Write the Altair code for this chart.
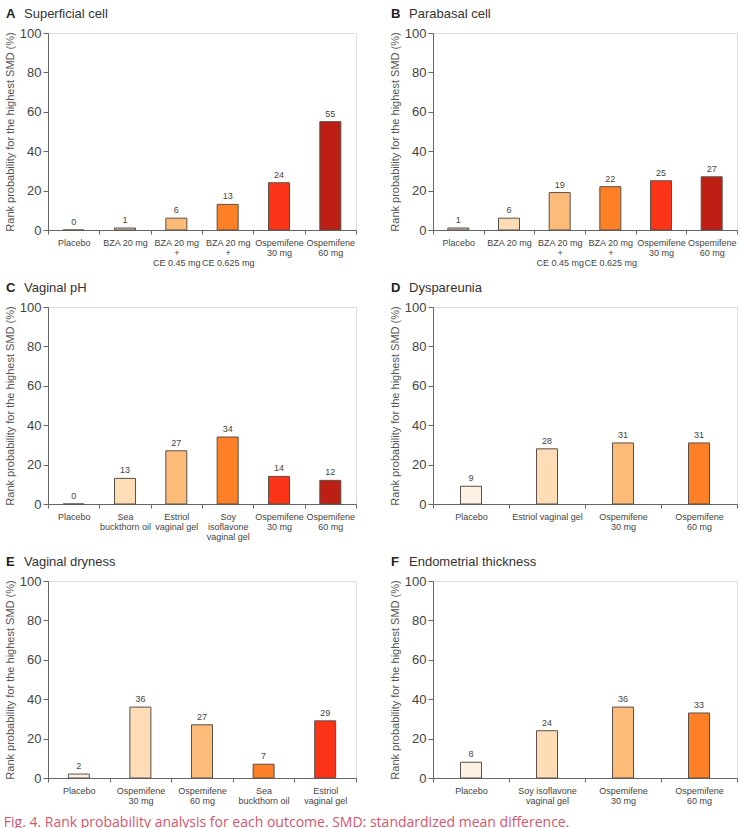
import altair as alt
import pandas as pd

# Rank probabilities (%) for the highest SMD, one list per outcome
a_cats = ["Placebo", "BZA 20 mg", "BZA 20 mg\n+\nCE 0.45 mg", "BZA 20 mg\n+\nCE 0.625 mg",
          "Ospemifene\n30 mg", "Ospemifene\n60 mg"]
a_vals = [0, 1, 6, 13, 24, 55]

b_cats = a_cats
b_vals = [1, 6, 19, 22, 25, 27]

c_cats = ["Placebo", "Sea\nbuckthorn oil", "Estriol\nvaginal gel", "Soy\nisoflavone\nvaginal gel",
          "Ospemifene\n30 mg", "Ospemifene\n60 mg"]
c_vals = [0, 13, 27, 34, 14, 12]

d_cats = ["Placebo", "Estriol vaginal gel", "Ospemifene\n30 mg", "Ospemifene\n60 mg"]
d_vals = [9, 28, 31, 31]

e_cats = ["Placebo", "Ospemifene\n30 mg", "Ospemifene\n60 mg", "Sea\nbuckthorn oil",
          "Estriol\nvaginal gel"]
e_vals = [2, 36, 27, 7, 29]

f_cats = ["Placebo", "Soy isoflavone\nvaginal gel", "Ospemifene\n30 mg", "Ospemifene\n60 mg"]
f_vals = [8, 24, 36, 33]

# Fill colours, in bar order
a_cols = ["#ddd6cf", "#d9cfc4", "#fdbb7a", "#fd7f26", "#fb3418", "#bd1f14"]
b_cols = ["#cfc8c1", "#fddcb6", "#fdbb7a", "#fd7f26", "#fb3418", "#bd1f14"]
c_cols = ["#ddd6cf", "#fddcb6", "#fdbb7a", "#fd7f26", "#fb3418", "#bd1f14"]
d_cols = ["#fdf1e3", "#fddcb6", "#fdbb7a", "#fd7f26"]
e_cols = ["#fdf1e3", "#fddcb6", "#fdbb7a", "#fd7f26", "#fb3418"]
f_cols = ["#fdf1e3", "#fddcb6", "#fdbb7a", "#fd7f26"]

y_ticks = [0, 20, 40, 60, 80, 100]

FONT = "Liberation Sans"
Y_TITLE = "Rank probability for the highest SMD (%)"


def panel(letter, name, cats, vals, cols, width):
    df = pd.DataFrame({"treatment": cats, "prob": vals, "fill": cols})
    base = alt.Chart(df)
    x = alt.X("treatment:N", sort=None, title=None,
              scale=alt.Scale(paddingInner=0, paddingOuter=0),
              axis=alt.Axis(labelAngle=0, labelExpr="split(datum.label, '\\n')",
                            labelFontSize=9, labelLineHeight=10, labelColor="#444",
                            labelPadding=4, tickBand="extent", tickSize=4,
                            domainColor="#666", tickColor="#666", labelFont=FONT))
    y = alt.Y("prob:Q", title=Y_TITLE,
              scale=alt.Scale(domain=[0, 100], nice=False),
              axis=alt.Axis(values=y_ticks, grid=False, tickSize=5,
                            labelOverlap=False, labelFlush=False,
                            labelFontSize=13, labelColor="#444", labelFont=FONT,
                            titleFontSize=11, titleFontWeight="normal", titleColor="#555",
                            titleFont=FONT, titlePadding=4,
                            domainColor="#666", tickColor="#666"))
    bars = base.mark_bar(size=21, stroke="#5a5049", strokeWidth=1).encode(
        x=x, y=y, color=alt.Color("fill:N", scale=None))
    labels = base.mark_text(dy=-8, fontSize=9, color="#444", font=FONT).encode(
        x=x, y=y, text="prob:Q")
    heading = alt.Chart(alt.Data(values=[{"t": letter, "n": name}]))
    tag = heading.mark_text(
        align="left", baseline="alphabetic", fontSize=13, fontWeight="bold",
        color="#222", font=FONT).encode(x=alt.value(-42), y=alt.value(-15), text="t:N")
    title = heading.mark_text(
        align="left", baseline="alphabetic", fontSize=13, fontWeight="normal",
        color="#333", font=FONT).encode(x=alt.value(-24), y=alt.value(-15), text="n:N")
    return alt.layer(bars, labels, tag, title).properties(width=width, height=197)


row1 = alt.hconcat(panel("A", "Superficial cell", a_cats, a_vals, a_cols, 308),
                   panel("B", "Parabasal cell", b_cats, b_vals, b_cols, 304), spacing=31)
row2 = alt.hconcat(panel("C", "Vaginal pH", c_cats, c_vals, c_cols, 308),
                   panel("D", "Dyspareunia", d_cats, d_vals, d_cols, 304), spacing=31)
row3 = alt.hconcat(panel("E", "Vaginal dryness", e_cats, e_vals, e_cols, 308),
                   panel("F", "Endometrial thickness", f_cats, f_vals, f_cols, 304), spacing=31)

chart = alt.vconcat(row1, row2, row3, spacing=13).properties(
    title=alt.TitleParams("Fig. 4. Rank probability analysis for each outcome. SMD: standardized mean difference.",
                          orient="bottom", anchor="start", fontSize=14, fontWeight="normal",
                          color="#d4566e", font="Open Sans", offset=10)
).configure_view(strokeWidth=0).configure_axisY(labelOverlap=False).configure(
    padding={"left": 3, "top": 7, "right": 2, "bottom": 2})

chart.save("out.html", embed_options={"renderer": "svg", "actions": False})
